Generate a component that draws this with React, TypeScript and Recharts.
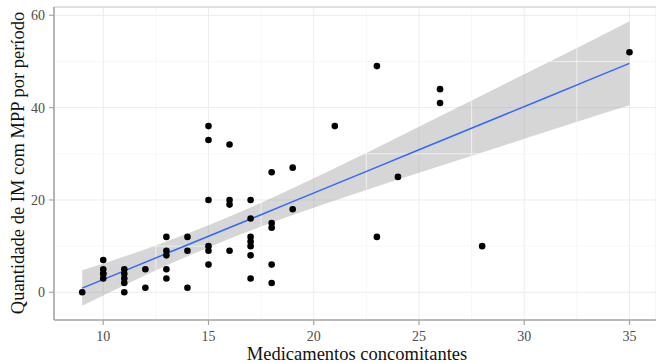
import {
  Area,
  CartesianGrid,
  ComposedChart,
  Line,
  ReferenceLine,
  Scatter,
  XAxis,
  YAxis,
} from "recharts";

// observed points: medicamentos concomitantes vs. quantidade de IM com MPP
const pointX = [
  9, 10, 10, 10, 10, 10, 11, 11, 11, 11, 11, 12, 12, 13, 13, 13, 13, 13, 14,
  14, 14, 15, 15, 15, 15, 15, 15, 16, 16, 16, 16, 17, 17, 17, 17, 17, 17, 17,
  18, 18, 18, 18, 18, 19, 19, 21, 23, 23, 24, 26, 26, 28, 35,
];
const pointY = [
  0, 7, 5, 4, 4, 3, 5, 4, 3, 2, 0, 5, 1, 12, 9, 8, 5, 3, 12, 9, 1, 36, 33, 20,
  10, 9, 6, 32, 20, 19, 9, 20, 16, 12, 11, 10, 8, 3, 26, 15, 14, 6, 2, 27, 18,
  36, 49, 12, 25, 44, 41, 10, 52,
];

// linear fit and its confidence band
const fitX = [9, 11, 13, 15, 17, 19, 21, 23, 25, 27, 29, 31, 33, 35];
const fitY = [
  0.9, 4.64, 8.39, 12.13, 15.88, 19.63, 23.37, 27.12, 30.87, 34.61, 38.36,
  42.1, 45.85, 49.6,
];
const bandLow = [
  -2.9, 1.54, 5.79, 9.73, 13.38, 16.73, 19.87, 22.92, 25.87, 28.81, 31.76,
  34.7, 37.65, 40.5,
];
const bandHigh = [
  4.8, 7.74, 10.99, 14.53, 18.38, 22.53, 26.87, 31.32, 35.87, 40.41, 44.96,
  49.5, 54.05, 58.7,
];

const xTicks = [10, 15, 20, 25, 30, 35];
const yTicks = [0, 20, 40, 60];
const xMinor = [12.5, 17.5, 22.5, 27.5, 32.5];
const yMinor = [10, 30, 50];

const points = pointX.map((x, i) => ({ x, y: pointY[i] }));
const fitRows = fitX.map((x, i) => ({
  x,
  fit: fitY[i],
  band: [bandLow[i], bandHigh[i]],
}));

const serif = "'Liberation Serif', 'Times New Roman', serif";

function XTick({ x, y, payload }: any) {
  return (
    <text x={x} y={y + 11} textAnchor="middle" fontFamily={serif} fontSize={14} fill="#4d4d4d">
      {payload.value}
    </text>
  );
}

function YTick({ x, y, payload }: any) {
  return (
    <text x={x} y={y + 5} textAnchor="end" fontFamily={serif} fontSize={14} fill="#4d4d4d">
      {payload.value}
    </text>
  );
}

export default function App() {
  return (
    <div
      style={{
        position: "absolute",
        left: 0,
        top: 0,
        width: 656,
        height: 363,
        background: "#fff",
        fontFamily: serif,
      }}
    >
      <ComposedChart
        width={656}
        height={363}
        data={fitRows}
        margin={{ top: 7, right: 0, bottom: 0, left: 0 }}
      >
        <CartesianGrid stroke="#ececec" strokeWidth={1} />
        {xMinor.map((v) => (
          <ReferenceLine key={"xm" + v} x={v} stroke="#f5f5f5" strokeWidth={0.8} />
        ))}
        {yMinor.map((v) => (
          <ReferenceLine key={"ym" + v} y={v} stroke="#f5f5f5" strokeWidth={0.8} />
        ))}
        <ReferenceLine y={61.8} stroke="#cccccc" strokeWidth={1.2} />
        <XAxis
          type="number"
          dataKey="x"
          domain={[7.66, 36.26]}
          ticks={xTicks}
          allowDataOverflow
          height={43}
          tickSize={5}
          tickMargin={5}
          tick={<XTick />}
          axisLine={{ stroke: "#a6a6a6", strokeWidth: 1.6 }}
          tickLine={{ stroke: "#a6a6a6", strokeWidth: 1.2 }}
        />
        <YAxis
          type="number"
          domain={[-6, 61.8]}
          ticks={yTicks}
          allowDataOverflow
          width={54}
          tickSize={5}
          tickMargin={4}
          tick={<YTick />}
          axisLine={{ stroke: "#a6a6a6", strokeWidth: 1.6 }}
          tickLine={{ stroke: "#a6a6a6", strokeWidth: 1.2 }}
        />
        <Scatter
          data={points}
          dataKey="y"
          fill="#000"
          isAnimationActive={false}
          shape={(p: any) => <circle cx={p.cx} cy={p.cy} r={3.3} fill="#000" />}
        />
        <Area
          dataKey="band"
          type="monotone"
          stroke="none"
          fill="#999999"
          fillOpacity={0.4}
          isAnimationActive={false}
          activeDot={false}
        />
        <Line
          dataKey="fit"
          type="linear"
          stroke="#3366ff"
          strokeWidth={1.5}
          dot={false}
          activeDot={false}
          isAnimationActive={false}
        />
        <text x={357} y={360} textAnchor="middle" fontFamily={serif} fontSize={18.5} fill="#111">
          Medicamentos concomitantes
        </text>
        <text
          x={24}
          y={163}
          textAnchor="middle"
          transform="rotate(-90 24 163)"
          fontFamily={serif}
          fontSize={18.5}
          fill="#111"
        >
          Quantidade de IM com MPP por período
        </text>
      </ComposedChart>
    </div>
  );
}
